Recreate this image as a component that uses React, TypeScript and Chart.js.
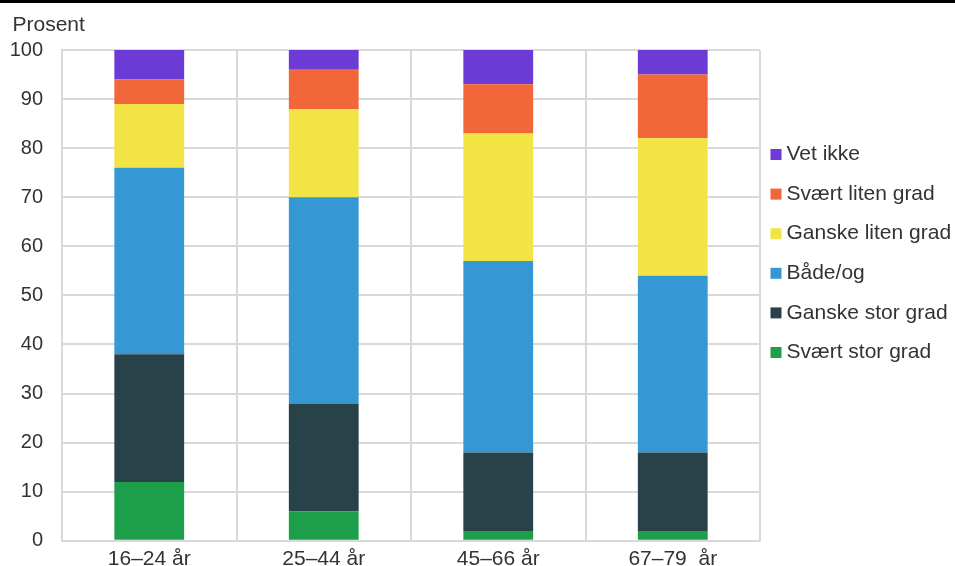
import React, { useEffect, useRef } from 'react';
import { Chart, registerables } from 'chart.js';

Chart.register(...registerables);

const categories = ['16–24 år', '25–44 år', '45–66 år', '67–79  år'];
const seriesNames = ['Svært stor grad', 'Ganske stor grad', 'Både/og', 'Ganske liten grad', 'Svært liten grad', 'Vet ikke'];
const svaertStorGrad = [12, 6, 2, 2];
const ganskeStorGrad = [26, 22, 16, 16];
const badeOg = [38, 42, 39, 36];
const ganskeLitenGrad = [13, 18, 26, 28];
const svaertLitenGrad = [5, 8, 10, 13];
const vetIkke = [6, 4, 7, 5];
const yTicks = [0, 10, 20, 30, 40, 50, 60, 70, 80, 90, 100];
const yAxisTitle = 'Prosent';

const seriesValues = [svaertStorGrad, ganskeStorGrad, badeOg, ganskeLitenGrad, svaertLitenGrad, vetIkke];
const seriesColors = ['#1c9e4a', '#284249', '#3598d4', '#f1e444', '#f26739', '#6c3bd6'];

const FONT = '"Liberation Sans", Arial, sans-serif';
const TEXT = '#333333';
const GRID = '#d9d9d9';

const overlayPlugin = {
  id: 'overlay',
  afterDraw(chart: any) {
    const ctx = chart.ctx as CanvasRenderingContext2D;
    ctx.save();
    ctx.fillStyle = TEXT;
    ctx.font = `21px ${FONT}`;
    ctx.textAlign = 'left';
    ctx.textBaseline = 'alphabetic';
    ctx.fillText(yAxisTitle, 12.5, 31);

    const ds = chart.data.datasets;
    const x0 = chart.chartArea.right + 10.5;
    ctx.textBaseline = 'middle';
    for (let i = ds.length - 1, k = 0; i >= 0; i--, k++) {
      const cy = 154.5 + k * 39.6;
      ctx.fillStyle = ds[i].backgroundColor;
      ctx.fillRect(x0, cy - 5.5, 11, 11);
      ctx.fillStyle = TEXT;
      ctx.fillText(ds[i].label, x0 + 16, cy);
    }
    ctx.restore();
  },
};

export default function App() {
  const canvasRef = useRef<HTMLCanvasElement | null>(null);

  useEffect(() => {
    if (!canvasRef.current) return;
    const chart = new Chart(canvasRef.current, {
      type: 'bar',
      data: {
        labels: categories,
        datasets: seriesNames.map((name, i) => ({
          label: name,
          data: seriesValues[i],
          backgroundColor: seriesColors[i],
          borderWidth: 0,
          barPercentage: 0.4,
          categoryPercentage: 1,
        })),
      },
      options: {
        animation: false,
        responsive: false,
        maintainAspectRatio: false,
        layout: { padding: { top: 50, right: 195, bottom: 0, left: 0 } },
        plugins: {
          legend: { display: false },
          tooltip: { enabled: false },
          title: { display: false },
        },
        scales: {
          x: {
            stacked: true,
            offset: true,
            grid: { display: true, color: GRID, lineWidth: 2, offset: true, drawTicks: false },
            border: { display: true, color: GRID, width: 2 },
            ticks: { color: TEXT, font: { family: FONT, size: 21 }, padding: 6, maxRotation: 0, autoSkip: false },
          },
          y: {
            stacked: true,
            min: 0,
            max: 100,
            grid: { color: GRID, lineWidth: 2, drawTicks: false },
            border: { display: true, color: GRID, width: 2 },
            ticks: { color: TEXT, font: { family: FONT, size: 20 }, padding: 19 },
            afterBuildTicks: (scale: any) => {
              scale.ticks = yTicks.map((v) => ({ value: v }));
            },
            afterFit: (scale: any) => {
              scale.width = 62;
            },
          },
        },
      },
      plugins: [overlayPlugin],
    });
    return () => chart.destroy();
  }, []);

  return (
    <div style={{ position: 'absolute', left: 0, top: 0, width: 955, height: 566, overflow: 'hidden', background: '#fff' }}>
      <canvas ref={canvasRef} width={955} height={578} style={{ display: 'block', width: 955, height: 578 }} />
      <div style={{ position: 'absolute', left: 0, top: 0, width: 955, height: 3, background: '#000' }} />
    </div>
  );
}
